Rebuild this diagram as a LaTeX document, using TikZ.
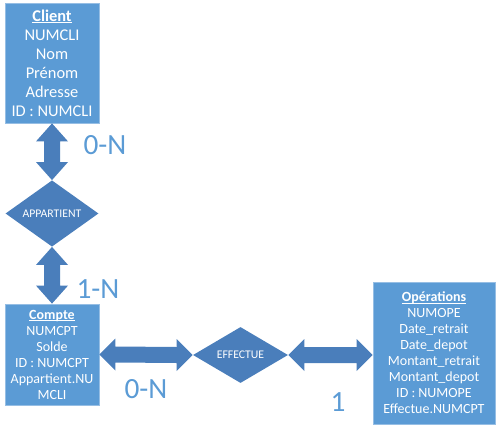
\documentclass[tikz,border=0pt]{standalone}
\usepackage{fontspec}
\setmainfont{Carlito}
\usetikzlibrary{shapes.geometric,calc}

\definecolor{boxfill}{RGB}{91,155,213}
\definecolor{boxedge}{RGB}{150,190,228}
\definecolor{relfill}{RGB}{74,126,187}
\definecolor{cardtext}{RGB}{91,155,213}

% title of an entity: bold, underlined just under the baseline
\newcommand\enttitle[1]{\setbox0\hbox{\bfseries #1}\leavevmode\rlap{\rule[-1.3pt]{\wd0}{0.6pt}}\box0}

% fat double arrows between two named points (top->bottom, left->right)
\newcommand\vlink[2]{\fill[relfill] (#1) -- ($(#1)+(16,18)$) -- ($(#1)+(8,18)$) -- ($(#2)+(8,-18)$) -- ($(#2)+(16,-18)$) -- (#2)
  -- ($(#2)+(-16,-18)$) -- ($(#2)+(-8,-18)$) -- ($(#1)+(-8,18)$) -- ($(#1)+(-16,18)$) -- cycle;}
\newcommand\hlink[2]{\fill[relfill] (#1) -- ($(#1)+(16,-16)$) -- ($(#1)+(16,-8)$) -- ($(#2)+(-16,-8)$) -- ($(#2)+(-16,-16)$) -- (#2)
  -- ($(#2)+(-16,16)$) -- ($(#2)+(-16,8)$) -- ($(#1)+(16,8)$) -- ($(#1)+(16,16)$) -- cycle;}

\tikzset{
  entity/.style={rectangle,fill=boxfill,draw=boxedge,line width=0.6pt,text=white,align=center,inner sep=0pt},
  relation/.style={diamond,fill=relfill,text=white,inner sep=0pt,font=\fontsize{8.8}{10}\selectfont},
  card/.style={text=cardtext,font=\fontsize{22}{26}\selectfont,inner sep=0.75pt}
}

\begin{document}
\begin{tikzpicture}[x=0.75pt,y=0.75pt,yscale=-1,xscale=1]
\useasboundingbox (0,0) rectangle (501,437);

%Shape: Rectangle [id:client]
\node (client) [entity,minimum width=70.5pt,minimum height=90pt,font=\fontsize{12.3}{14.3}\selectfont] at (52,63)
  {\enttitle{Client}\\NUMCLI\\Nom\\Prénom\\Adresse\\ID : NUMCLI};
%Shape: Rectangle [id:compte]
\node (compte) [entity,minimum width=70.5pt,minimum height=75.75pt,font=\fontsize{10.5}{12}\selectfont] at (52,354.5)
  {\enttitle{Compte}\\NUMCPT\\Solde\\ID : NUMCPT\\Appartient.NU\\MCLI};
%Shape: Rectangle [id:operations]
\node (ops) [entity,minimum width=91.5pt,minimum height=106.5pt,font=\fontsize{10.5}{12}\selectfont] at (434,353)
  {\enttitle{Opérations}\\NUMOPE\\Date\_retrait\\Date\_depot\\Montant\_retrait\\Montant\_depot\\ID : NUMOPE\\Effectue.NUMCPT};

%Shape: Diamond [id:appartient]
\node (app) [relation,minimum width=69.75pt,minimum height=42.75pt] at (52,213.5) {APPARTIENT};
%Shape: Diamond [id:effectue]
\node (eff) [relation,minimum width=71.25pt,minimum height=42pt] at (240.5,355) {EFFECTUE};

%Shape: Double Arrow
\vlink{client.south}{app.north}
\vlink{app.south}{compte.north}
\hlink{compte.east}{eff.west}
\hlink{eff.east}{eff.east -| ops.west}

% Text Node
\node (cardA) [card] at (105,145) {0-N};
% Text Node
\node (cardB) [card] at (98,289) {1-N};
% Text Node
\node (cardC) [card] at (146,389) {0-N};
% Text Node
\node (cardD) [card] at (338,402) {1};

\end{tikzpicture}
\end{document}
